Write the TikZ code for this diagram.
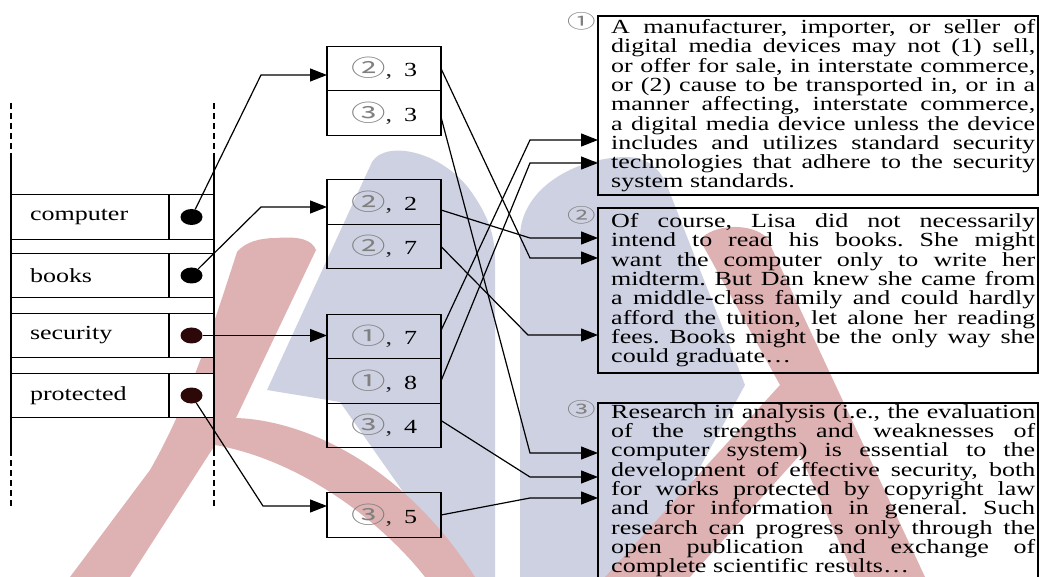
\documentclass[tikz,border=0pt]{standalone}
\usepackage{fontspec}
\setmainfont{Liberation Serif}[FakeStretch=1.3]
\newfontfamily\cnum{Noto Sans CJK SC}[FakeStretch=1.5]
\usetikzlibrary{arrows.meta,positioning,shapes.geometric,calc}
\definecolor{wmblue}{RGB}{206,209,226}
\definecolor{wmred}{RGB}{222,178,179}
\definecolor{dotred}{RGB}{45,8,8}
\frenchspacing
\newcommand\jl[1]{\leavevmode\hbox to 424pt{\spaceskip=\fontdimen2\font plus 1fil\relax #1}\\}
\newcommand\idx[2]{{\cnum\fontsize{23pt}{23pt}\selectfont\color{black!50}#1}{\color{black!85},}\hspace{12pt}#2}
\tikzset{
  word/.style={draw,fill=white,line width=1.3pt,outer sep=0pt,minimum width=158pt,minimum height=44.5pt,
    inner xsep=19pt,text width=120pt,align=left,font=\fontsize{20pt}{22pt}\selectfont},
  ptr/.style={draw,fill=white,line width=1.3pt,outer sep=0pt,minimum width=45pt,minimum height=44.5pt,inner sep=0pt},
  dot/.style={ellipse,fill=black,minimum width=22pt,minimum height=16pt,inner sep=0pt},
  cell/.style={draw,line width=1.3pt,outer sep=0pt,minimum width=114pt,minimum height=44.5pt,inner sep=0pt,
    font=\fontsize{20pt}{22pt}\selectfont},
  frame/.style={draw,line width=1.3pt,outer sep=0pt,minimum width=440pt,inner sep=0pt,anchor=north west},
  para/.style={text width=424pt,align=left,inner sep=0pt,anchor=north west,
    font=\fontsize{20pt}{19.3pt}\selectfont},
  num/.style={text=black!50,font=\fontsize{19pt}{19pt}\cnum,inner sep=0pt},
  link/.style={line width=1.2pt,-{Triangle[length=17pt,width=13pt]}}
}
\begin{document}
\begin{tikzpicture}[x=1pt,y=-1pt]
\useasboundingbox (0,0) rectangle (1039,577);
% logo behind the figure
\fill[wmblue] (267,390) -- (372,162) .. controls (385,140) and (440,150) .. (470,190)
  .. controls (488,215) and (495,235) .. (495,260) -- (495,577) -- (463,577) -- (340,402) -- cycle;
\fill[wmblue] (520,577) -- (520,235) .. controls (522,188) and (575,158) .. (625,157)
  .. controls (648,157) and (660,168) .. (668,188) -- (745,385) -- (640,577) -- cycle;
\fill[wmred] (276,238) .. controls (300,236) and (312,240) .. (316,250) -- (236,418)
  .. controls (300,420) and (400,460) .. (475,577) -- (425,577)
  .. controls (380,520) and (300,460) .. (215,445) -- (130,577) -- (70,577) -- (150,470)
  .. controls (190,400) and (215,320) .. (237,252) .. controls (245,242) and (260,238) .. (276,238) -- cycle;
\fill[wmred] (700,240) .. controls (712,224) and (752,222) .. (767,238) -- (925,577) -- (855,577)
  -- (800,455) -- (690,577) -- (605,577) -- (780,385) -- cycle;

\draw[line width=1.3pt] (11,158) -- (11,450) (214,158) -- (214,450);
\draw[line width=1.3pt,dash pattern=on 6pt off 4pt] (11,103) -- (11,158) (214,103) -- (214,158)
  (11,450) -- (11,507) (214,450) -- (214,507);

\node[word] (wcomp) at (90,217) {computer};
\node[ptr,right=0pt of wcomp] (pcomp) {};
\node[word] (wbook) at (90,275.5) {books};
\node[ptr,right=0pt of wbook] (pbook) {};
\node[word] (wsec) at (90,335.5) {security};
\node[ptr,right=0pt of wsec] (psec) {};
\node[word] (wprot) at (90,395.5) {protected};
\node[ptr,right=0pt of wprot] (pprot) {};
\node[dot] (dcomp) at (pcomp) {};
\node[dot] (dbook) at (pbook) {};
\node[dot,fill=dotred] (dsec) at (psec) {};
\node[dot,fill=dotred] (dprot) at (pprot) {};

\node[cell] (c23) at (384,68.5) {\idx{②}{3}};
\node[cell,below=0pt of c23] (c33) {\idx{③}{3}};
\node[cell] (c22) at (384,202) {\idx{②}{2}};
\node[cell,below=0pt of c22] (c27) {\idx{②}{7}};
\node[cell] (c17) at (384,336.5) {\idx{①}{7}};
\node[cell,below=0pt of c17] (c18) {\idx{①}{8}};
\node[cell,below=0pt of c18] (c34) {\idx{③}{4}};
\node[cell] (c35) at (384,515) {\idx{③}{5}};

\node[frame,minimum height=179pt] (t1) at (598,16) {};
\node[frame,minimum height=165pt] (t2) at (598,208) {};
\node[frame,minimum height=250pt] (t3) at (598,403) {};
\node[num] (n1) at (582,21) {①};
\node[num] (n2) at (582,215) {②};
\node[num] (n3) at (582,409) {③};

\node[para] (p1) at (611,19.3) {\jl{A manufacturer, importer, or seller of}
  \jl{digital media devices may not (1) sell,}
  \jl{or offer for sale, in interstate commerce,}
  \jl{or (2) cause to be transported in, or in a}
  \jl{manner affecting, interstate commerce,}
  \jl{a digital media device unless the device}
  \jl{includes and utilizes standard security}
  \jl{technologies that adhere to the security}
  system standards.};
\node[para] (p2) at (611,213.3) {\jl{Of course, Lisa did not necessarily}
  \jl{intend to read his books. She might}
  \jl{want the computer only to write her}
  \jl{midterm. But Dan knew she came from}
  \jl{a middle-class family and could hardly}
  \jl{afford the tuition, let alone her reading}
  \jl{fees. Books might be the only way she}
  could graduate…};
\node[para] (p3) at (611,404.3) {\jl{Research in analysis (i.e., the evaluation}
  \jl{of the strengths and weaknesses of}
  \jl{computer system) is essential to the}
  \jl{development of effective security, both}
  \jl{for works protected by copyright law}
  \jl{and for information in general. Such}
  \jl{research can progress only through the}
  \jl{open publication and exchange of}
  complete scientific results…};

\coordinate (k1) at (261,75);
\draw[link] (dcomp) -- (k1) -- (k1 -| c23.west);
\coordinate (k2) at (261,207);
\draw[link] (dbook) -- (k2) -- (k2 -| c22.west);
\draw[link] (dsec) -- (dsec -| c17.west);
\coordinate (k4) at (263,506);
\draw[link] (dprot) -- (k4) -- (k4 -| c35.west);

\coordinate (r1) at (530,258);
\draw[link] (c23.east) -- (r1) -- (r1 -| t2.west);
\coordinate (r2) at (530,453);
\draw[link] ($(c33.east)+(0,4)$) -- (r2) -- (r2 -| t3.west);
\coordinate (r3) at (530,238);
\draw[link] ($(c22.east)+(0,8)$) -- (r3) -- (r3 -| t2.west);
\coordinate (r4) at (528,335);
\draw[link] (c27.east) -- (r4) -- (r4 -| t2.west);
\coordinate (r5) at (530,140);
\draw[link] ($(c17.east)+(0,-6)$) -- (r5) -- (r5 -| t1.west);
\coordinate (r6) at (530,163);
\draw[link] (c18.east) -- (r6) -- (r6 -| t1.west);
\coordinate (r7) at (530,477);
\draw[link] ($(c34.east)+(0,-5)$) -- (r7) -- (r7 -| t3.west);
\coordinate (r8) at (530,498);
\draw[link] (c35.east) -- (r8) -- (r8 -| t3.west);
\end{tikzpicture}
\end{document}
